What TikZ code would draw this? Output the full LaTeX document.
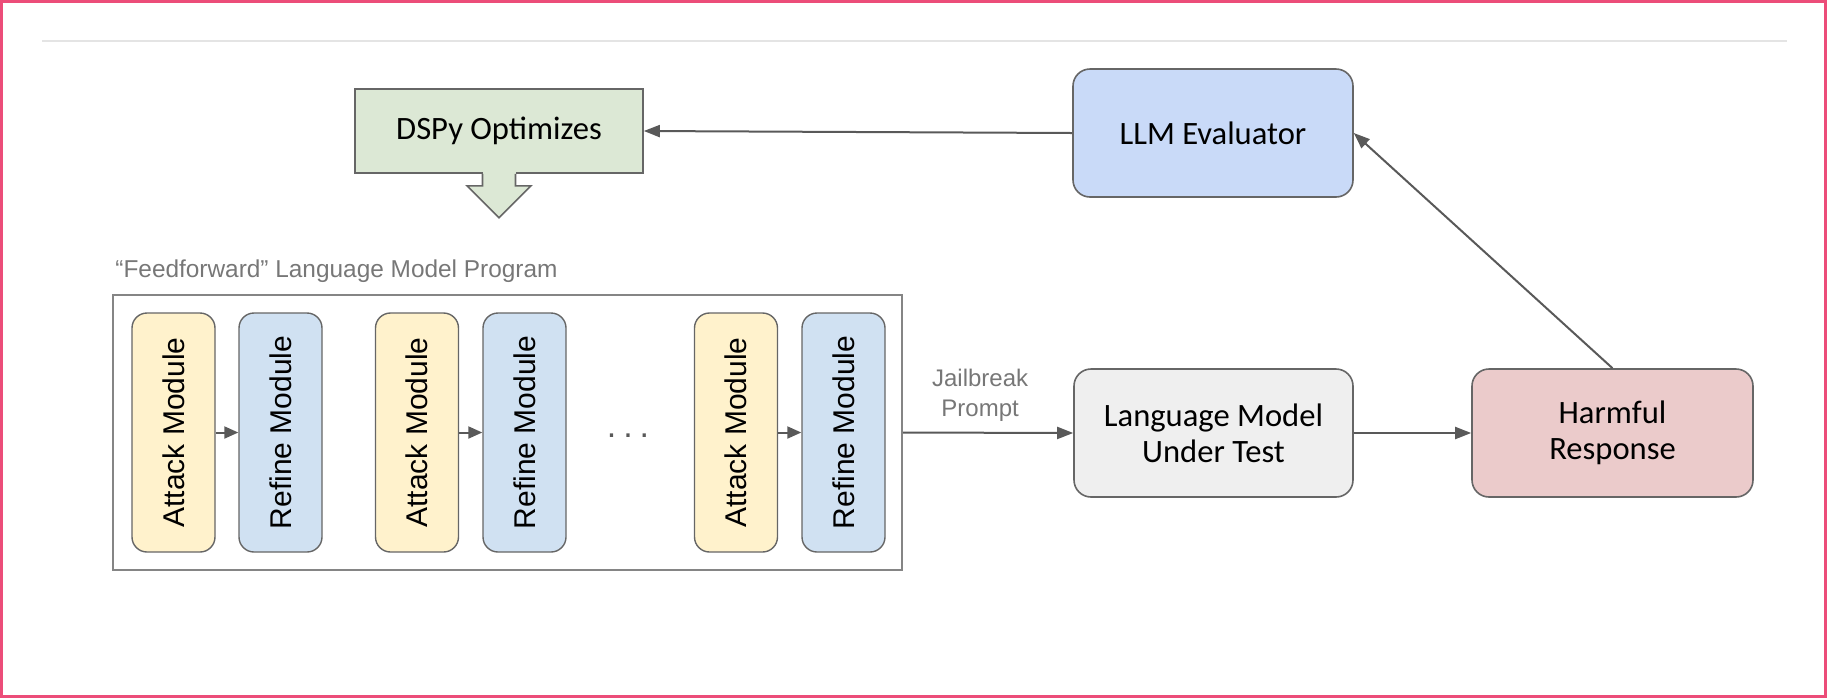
\documentclass[tikz,border=0pt]{standalone}
\usepackage{fontspec}
\usepackage{graphicx}
\setmainfont{Liberation Sans}
\newfontfamily\boxfont{Carlito}
\usetikzlibrary{arrows.meta,calc}

\definecolor{framepink}{HTML}{EC4D79}
\definecolor{rulegray}{HTML}{E4E4E4}
\definecolor{bordergray}{HTML}{666666}
\definecolor{arrowgray}{HTML}{595959}
\definecolor{labelgray}{HTML}{777777}
\definecolor{optgreen}{HTML}{DCE8D5}
\definecolor{evalblue}{HTML}{C9DAF8}
\definecolor{attackyellow}{HTML}{FFF2CC}
\definecolor{refineblue}{HTML}{D0E1F2}
\definecolor{testgray}{HTML}{EFEFEF}
\definecolor{harmred}{HTML}{EBCBCB}

\tikzset{
  bigbox/.style={draw=bordergray, line width=0.8pt, rounded corners=8.5pt,
    inner sep=0pt, align=center, minimum width=140pt, minimum height=64pt,
    font=\boxfont\fontsize{16.3}{18}\selectfont},
  modbox/.style={draw=bordergray, line width=0.7pt, rounded corners=7.5pt,
    inner sep=0pt, minimum width=41.5pt, minimum height=119.5pt,
    font=\fontsize{15}{18}\selectfont},
  arr/.style={draw=arrowgray, line width=1pt, -{Triangle[length=8pt,width=6pt]}},
  smallarr/.style={draw=arrowgray, line width=1pt, -{Triangle[length=7pt,width=6pt]}},
}

\begin{document}
\begin{tikzpicture}[x=0.5pt,y=-0.5pt]
  \useasboundingbox (0,0) rectangle (1827,698);

  % outer frame and top rule
  \draw[framepink, line width=1.2pt] (1.5,1.5) rectangle (1825.5,696.5);
  \draw[rulegray, line width=0.8pt] (42,41) -- (1787,41);

  % optimizer box with its downward arrow
  \node[draw=bordergray, fill=optgreen, line width=0.8pt, inner sep=0pt,
        minimum width=144pt, minimum height=42pt,
        font=\boxfont\fontsize{16.3}{18}\selectfont] (dspy) at (499,131) {DSPy Optimizes};
  \begin{scope}[shift={(dspy.south)}]
    \fill[optgreen] (-16.5,-1.5) rectangle (16.5,1);
    \filldraw[fill=optgreen, draw=bordergray, line width=0.8pt]
      (-16.5,0) -- (-16.5,12) -- (-32,12) -- (0,44) -- (32,12) -- (16.5,12) -- (16.5,0);
  \end{scope}

  % evaluator
  \node[bigbox, fill=evalblue] (llm) at (1213,133) {LLM Evaluator};

  % program container
  \node[draw=bordergray!80, line width=1pt, inner sep=0pt,
        minimum width=394.5pt, minimum height=137.5pt] (prog) at (507.5,432.5) {};
  \node[anchor=base west, text=labelgray, font=\fontsize{12.2}{14}\selectfont, inner sep=0pt]
        (proglabel) at (115,277) {“Feedforward” Language Model Program};

  % attack / refine modules
  \node[modbox, fill=attackyellow] (a1) at (173.5,432.5) {\rotatebox{90}{Attack Module}};
  \node[modbox, fill=refineblue]   (r1) at (280.5,432.5) {\rotatebox{90}{Refine Module}};
  \node[modbox, fill=attackyellow] (a2) at (417,432.5)   {\rotatebox{90}{Attack Module}};
  \node[modbox, fill=refineblue]   (r2) at (524.5,432.5) {\rotatebox{90}{Refine Module}};
  \node[modbox, fill=attackyellow] (a3) at (736,432.5)   {\rotatebox{90}{Attack Module}};
  \node[modbox, fill=refineblue]   (r3) at (843.5,432.5) {\rotatebox{90}{Refine Module}};
  \node[anchor=base, font=\fontsize{17}{18}\selectfont, text=arrowgray, inner sep=0pt]
        (dots) at (628,437) {.\hspace{3.5pt}.\hspace{3.5pt}.};

  \draw[smallarr] (a1.east) -- (r1.west);
  \draw[smallarr] (a2.east) -- (r2.west);
  \draw[smallarr] (a3.east) -- (r3.west);

  % model under test and response
  \node[bigbox, fill=testgray, minimum width=139.5pt] (lmut) at (1213.5,433) {Language Model\\Under Test};
  \node[bigbox, fill=harmred, minimum width=140.5pt] (harm) at (1612.5,433) {Harmful\\Response};

  % connectors
  \draw[arr] (prog.east) -- node[above=2pt, xshift=-4pt, text=labelgray, align=center,
        font=\fontsize{12}{15}\selectfont] (jb) {Jailbreak\\Prompt} (lmut.west);
  \draw[arr] (lmut.east) -- (harm.west);
  \draw[arr] (harm.north) -- (llm.east);
  \draw[arr] (llm.west) -- (dspy.east);
\end{tikzpicture}
\end{document}
